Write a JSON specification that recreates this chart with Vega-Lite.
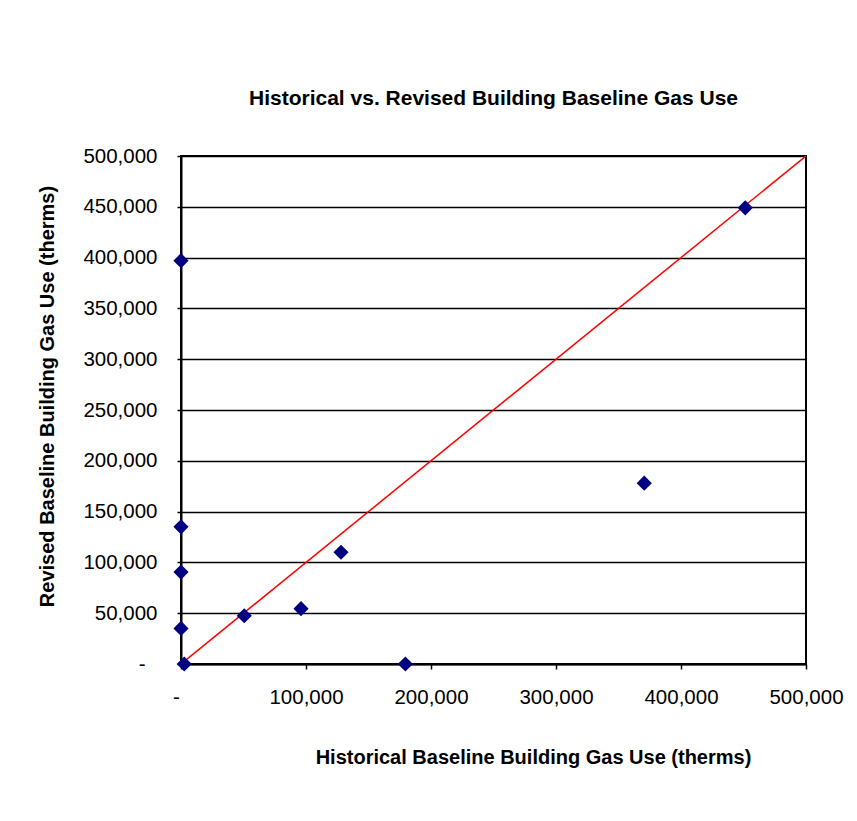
{
  "$schema": "https://vega.github.io/schema/vega-lite/v6.json",
  "width": 625,
  "height": 508,
  "autosize": {"type": "none"},
  "padding": {"left": 181, "top": 156, "right": 51, "bottom": 157},
  "background": "white",
  "title": {
    "text": "Historical vs. Revised Building Baseline Gas Use",
    "font": "Liberation Sans",
    "fontSize": 21,
    "fontWeight": "bold",
    "color": "black",
    "anchor": "middle",
    "offset": 37
  },
  "config": {
    "view": {"stroke": "black", "strokeWidth": 2},
    "axis": {
      "labelFont": "Liberation Sans",
      "labelFontSize": 20.5,
      "labelColor": "black",
      "titleFont": "Liberation Sans",
      "titleFontSize": 20,
      "titleFontWeight": "bold",
      "titleColor": "black",
      "domainColor": "black",
      "domainWidth": 2,
      "tickColor": "black",
      "tickWidth": 1.5
    }
  },
  "datasets": {
    "points": [
      {"historical": 0, "revised": 397000},
      {"historical": 0, "revised": 135000},
      {"historical": 0, "revised": 90500},
      {"historical": 0, "revised": 35000},
      {"historical": 2600, "revised": 0},
      {"historical": 50600, "revised": 47500},
      {"historical": 96000, "revised": 54500},
      {"historical": 128000, "revised": 110000},
      {"historical": 179500, "revised": 0},
      {"historical": 370600, "revised": 178000},
      {"historical": 451400, "revised": 449000}
    ],
    "line": [
      {"historical": 0, "revised": 0},
      {"historical": 500000, "revised": 500000}
    ]
  },
  "layer": [
    {
      "data": {"name": "line"},
      "mark": {"type": "line", "color": "#ff0000", "strokeWidth": 1.5, "clip": true},
      "encoding": {
        "x": {
          "field": "historical",
          "type": "quantitative",
          "scale": {"domain": [0, 500000], "nice": false, "zero": true},
          "axis": {
            "title": "Historical Baseline Building Gas Use (therms)",
            "values": [0, 100000, 200000, 300000, 400000, 500000],
            "labelExpr": "datum.value == 0 ? '-' : format(datum.value, ',')",
            "grid": false,
            "tickSize": 5,
            "labelPadding": 18,
            "labelOffset": {"condition": {"test": "datum.value == 0", "value": -5}, "value": 0},
            "labelFlush": false,
            "labelOverlap": false,
            "titleX": 352,
            "titleY": 93,
            "titleBaseline": "middle",
            "titleAnchor": "middle",
            "titleAlign": "center"
          }
        },
        "y": {
          "field": "revised",
          "type": "quantitative",
          "scale": {"domain": [0, 500000], "nice": false, "zero": true},
          "axis": {
            "title": "Revised Baseline Building Gas Use (therms)",
            "values": [0, 50000, 100000, 150000, 200000, 250000, 300000, 350000, 400000, 450000, 500000],
            "labelExpr": "datum.value == 0 ? '-' : format(datum.value, ',')",
            "grid": true,
            "gridColor": "black",
            "gridWidth": 1.5,
            "gridOpacity": 1,
            "tickSize": 4,
            "labelPadding": {"condition": {"test": "datum.value == 0", "value": 32}, "value": 20},
            "labelFlush": false,
            "labelOverlap": false,
            "titleX": -134,
            "titleY": 240,
            "titleAngle": -90,
            "titleBaseline": "middle",
            "titleAlign": "center",
            "titleAnchor": "middle"
          }
        }
      }
    },
    {
      "data": {"name": "points"},
      "mark": {"type": "point", "shape": "diamond", "filled": true, "color": "#000080", "size": 230, "opacity": 1},
      "encoding": {
        "x": {"field": "historical", "type": "quantitative"},
        "y": {"field": "revised", "type": "quantitative"}
      }
    }
  ]
}
